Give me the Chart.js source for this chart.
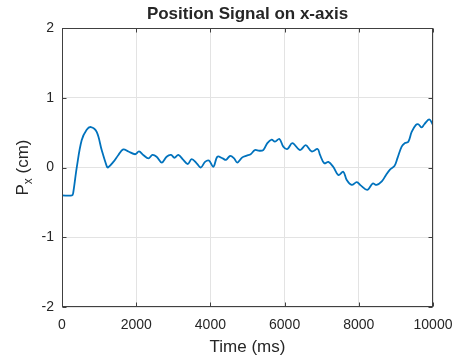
<!DOCTYPE html>
<html>
<head>
<meta charset="utf-8">
<script src="https://cdn.jsdelivr.net/npm/chart.js@4"></script>
<style>
  body { margin: 0; background: #fff; }
  #wrap { width: 459px; height: 360px; }
</style>
</head>
<body>
<div id="wrap"><canvas id="posChart" width="459" height="360"></canvas></div>
<script>
// sample times (ms) and x-position (cm)
const times = [0, 270, 300, 400, 530, 665, 780, 935, 1070, 1205,
    1240, 1385, 1520, 1650, 1790, 1970, 2075, 2190, 2330, 2435,
    2550, 2690, 2820, 2940, 3030, 3135, 3270, 3390, 3495, 3630,
    3740, 3855, 3960, 4080, 4190, 4330, 4420, 4530, 4640, 4725,
    4860, 4980, 5085, 5200, 5320, 5425, 5535, 5650, 5740, 5860,
    5965, 6075, 6210, 6415, 6570, 6730, 6890, 6955, 7070, 7180,
    7310, 7450, 7580, 7675, 7810, 7945, 8060, 8230, 8375, 8480,
    8620, 8730, 8840, 8960, 9040, 9155, 9245, 9335, 9425, 9540,
    9605, 9695, 9765, 9900, 10000];
const posX = [-0.40, -0.40, -0.37, 0.01, 0.39, 0.54, 0.58, 0.51, 0.25, 0.02,
    0.00, 0.08, 0.18, 0.26, 0.23, 0.19, 0.23, 0.18, 0.13, 0.18,
    0.155, 0.07, 0.155, 0.18, 0.14, 0.18, 0.11, 0.05, 0.12, 0.06,
    0.00, 0.08, 0.10, 0.01, 0.155, 0.13, 0.11, 0.165, 0.13, 0.07,
    0.145, 0.17, 0.19, 0.25, 0.24, 0.25, 0.35, 0.40, 0.37, 0.41,
    0.30, 0.265, 0.35, 0.25, 0.32, 0.23, 0.265, 0.18, 0.06, 0.08,
    0.01, -0.11, -0.06, -0.18, -0.25, -0.21, -0.26, -0.32, -0.23, -0.25,
    -0.20, -0.11, -0.03, 0.02, 0.13, 0.30, 0.35, 0.37, 0.51, 0.61,
    0.62, 0.575, 0.62, 0.69, 0.61];

const xTicks = [0, 2000, 4000, 6000, 8000, 10000];
const yTicks = [-2, -1, 0, 1, 2];

const titleText = 'Position Signal on x-axis';
const xLabel = 'Time (ms)';

const textColor = '#262626';
const axisColor = '#404040';
const fontFamily = '"Liberation Sans", Arial, sans-serif';

// box, inward tick marks and titles drawn around the plot area
const framePlugin = {
    id: 'frame',
    afterDraw(chart) {
        const ctx = chart.ctx;
        const a = chart.chartArea;
        const xs = chart.scales.x, ys = chart.scales.y;
        ctx.save();
        ctx.strokeStyle = axisColor;
        ctx.lineWidth = 1;
        const L = Math.round(a.left) + 0.5, R = Math.round(a.right) - 0.5;
        const T = Math.round(a.top) + 0.5, B = Math.round(a.bottom) - 0.5;
        ctx.strokeRect(L, T, R - L, B - T);
        ctx.beginPath();
        xTicks.forEach(v => {
            const px = Math.round(xs.getPixelForValue(v)) + 0.5;
            ctx.moveTo(px, B); ctx.lineTo(px, B - 4);
            ctx.moveTo(px, T); ctx.lineTo(px, T + 4);
        });
        yTicks.forEach(v => {
            const py = Math.round(ys.getPixelForValue(v)) + 0.5;
            ctx.moveTo(L, py); ctx.lineTo(L + 4, py);
            ctx.moveTo(R, py); ctx.lineTo(R - 4, py);
        });
        ctx.stroke();

        const cx = (a.left + a.right) / 2;
        ctx.fillStyle = textColor;
        ctx.textAlign = 'center';
        ctx.textBaseline = 'middle';
        ctx.font = 'bold 17px ' + fontFamily;
        ctx.fillText(titleText, cx, 14);

        ctx.font = '17px ' + fontFamily;
        ctx.fillText(xLabel, cx, 347);

        // y label with subscript x
        ctx.translate(23, (a.top + a.bottom) / 2);
        ctx.rotate(-Math.PI / 2);
        ctx.textAlign = 'left';
        const p = 'P', sub = 'x', rest = ' (cm)';
        ctx.font = '17px ' + fontFamily;
        const wP = ctx.measureText(p).width;
        const wR = ctx.measureText(rest).width;
        ctx.font = '12px ' + fontFamily;
        const wS = ctx.measureText(sub).width;
        const x0 = -(wP + wS + wR) / 2;
        ctx.font = '17px ' + fontFamily;
        ctx.fillText(p, x0, 0);
        ctx.font = '12px ' + fontFamily;
        ctx.fillText(sub, x0 + wP, 6);
        ctx.font = '17px ' + fontFamily;
        ctx.fillText(rest, x0 + wP + wS, 0);
        ctx.restore();
    }
};

const points = times.map((t, i) => ({ x: t, y: posX[i] }));

new Chart(document.getElementById('posChart').getContext('2d'), {
    type: 'line',
    data: {
        datasets: [{
            data: points,
            borderColor: '#0072BD',
            borderWidth: 1.8,
            pointRadius: 0,
            tension: 0.35,
            fill: false
        }]
    },
    options: {
        responsive: false,
        animation: false,
        layout: { padding: { top: 28, right: 26, left: 0, bottom: 0 } },
        plugins: {
            legend: { display: false },
            title: { display: false },
            tooltip: { enabled: false }
        },
        scales: {
            x: {
                type: 'linear',
                min: 0,
                max: 10000,
                afterFit(scale) {
                    scale.height = 53;
                    scale.paddingLeft = 0;
                    scale.paddingRight = 0;
                },
                afterBuildTicks(scale) { scale.ticks = xTicks.map(v => ({ value: v })); },
                grid: { color: '#e3e3e3', drawTicks: false },
                border: { display: false },
                ticks: {
                    color: textColor,
                    padding: 10,
                    maxRotation: 0,
                    callback: v => String(v),
                    font: { family: fontFamily, size: 14 }
                }
            },
            y: {
                min: -2,
                max: 2,
                afterFit(scale) {
                    scale.width = 62;
                    scale.paddingTop = 0;
                    scale.paddingBottom = 0;
                },
                afterBuildTicks(scale) { scale.ticks = yTicks.map(v => ({ value: v })); },
                grid: { color: '#e3e3e3', drawTicks: false },
                border: { display: false },
                ticks: {
                    color: textColor,
                    padding: 8,
                    callback: v => String(v),
                    font: { family: fontFamily, size: 14 }
                }
            }
        }
    },
    plugins: [framePlugin]
});
</script>
</body>
</html>
